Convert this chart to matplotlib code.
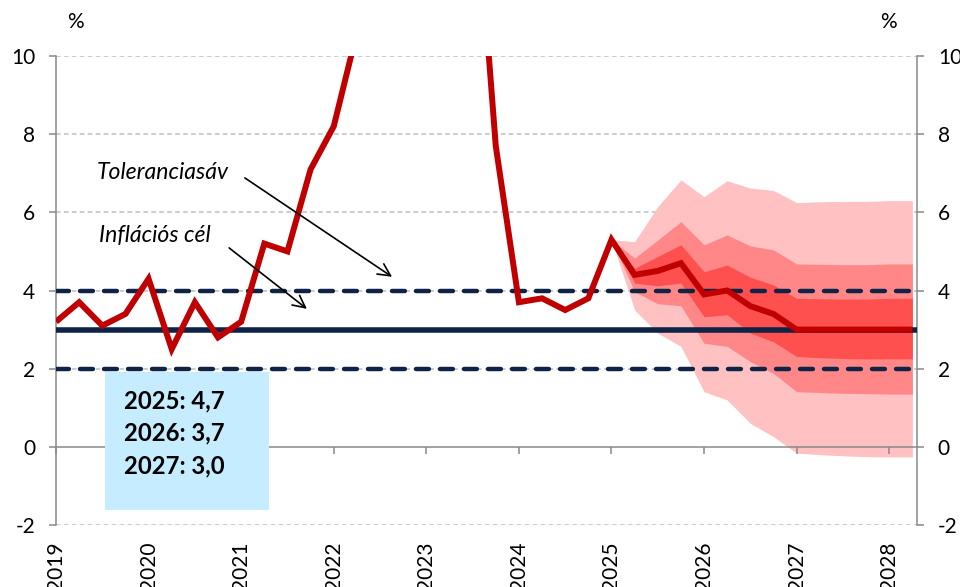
import numpy as np
import matplotlib
matplotlib.use("Agg")
import matplotlib.pyplot as plt

plt.rcParams['font.family'] = ['Lato', 'DejaVu Sans']

# ---------------- data ----------------
start_year = 2019
inflation = [3.2, 3.7, 3.1, 3.4,
             4.3, 2.5, 3.7, 2.8,
             3.2, 5.2, 5.0, 7.1,
             8.2, 10.6, 16.5, 22.7,
             25.4, 21.9, 15.4, 7.7,
             3.7, 3.8, 3.5, 3.8,
             5.3, 4.4, 4.5, 4.7,
             3.9, 4.0, 3.6, 3.4,
             3.0, 3.0, 3.0, 3.0,
             3.0, 3.0]
fan_start_index = 24  # 2025Q1
up90 = [5.3, 5.25, 6.15, 6.83, 6.4, 6.81, 6.62, 6.56, 6.25, 6.27, 6.28, 6.28, 6.3, 6.3]
up60 = [5.3, 4.83, 5.29, 5.76, 5.17, 5.42, 5.14, 5.04, 4.68, 4.67, 4.66, 4.66, 4.68, 4.68]
up30 = [5.3, 4.57, 4.87, 5.17, 4.48, 4.65, 4.34, 4.14, 3.80, 3.79, 3.78, 3.78, 3.80, 3.80]
lo30 = [5.3, 4.19, 4.12, 4.19, 3.33, 3.38, 2.91, 2.69, 2.31, 2.28, 2.26, 2.25, 2.25, 2.25]
lo60 = [5.3, 3.97, 3.66, 3.61, 2.65, 2.57, 2.18, 1.88, 1.41, 1.39, 1.37, 1.36, 1.35, 1.35]
lo90 = [5.3, 3.5, 2.91, 2.57, 1.41, 1.2, 0.6, 0.26, -0.16, -0.2, -0.23, -0.25, -0.26, -0.26]
target = 3.0
band_low, band_high = 2.0, 4.0
year_ticks = list(range(2019, 2029))
yticks = [-2, 0, 2, 4, 6, 8, 10]
box_lines = ["2025: 4,7", "2026: 3,7", "2027: 3,0"]
label_tol = "Toleranciasáv"
label_target = "Inflációs cél"

# ---------------- styling ----------------
RED = '#C00000'
NAVY = '#0F2346'
C90 = '#FFC1C1'
C60 = '#FF8787'
C30 = '#FF5050'
GREY = '#898989'
GRID = '#BFBFBF'
BOX = '#C6EDFF'

x = start_year + np.arange(len(inflation)) / 4.0
xf = x[fan_start_index:fan_start_index + len(up90)]

fig = plt.figure(figsize=(9.6, 5.87), dpi=100)
ax = fig.add_axes([56/960, 1-525/587, (917-56)/960, (525-56)/587])

ax.set_xlim(2019.0, 2028.30)
ax.set_ylim(-2, 10)

# grid
for yv in yticks:
    if yv != 0:
        ax.axhline(yv, color=GRID, lw=1.1, ls=(0, (3.0, 2.2)), zorder=0.5)

# fan
ax.fill_between(xf, lo90, up90, color=C90, lw=0, zorder=1)
ax.fill_between(xf, lo60, up60, color=C60, lw=0, zorder=1.1)
ax.fill_between(xf, lo30, up30, color=C30, lw=0, zorder=1.2)

# tolerance band & target
for yv in (band_low, band_high):
    ax.axhline(yv, color=NAVY, lw=3.2, ls=(0, (2.9, 2.5)),
               dash_capstyle='round', zorder=2)
ax.axhline(target, color=NAVY, lw=4.0, zorder=2.1)

# inflation line
ax.plot(x, inflation, color=RED, lw=4.3, solid_joinstyle='miter',
        solid_capstyle='butt', zorder=3)

# axes styling
ax.spines['top'].set_visible(False)
ax.spines['bottom'].set_position(('data', 0))
for s in ('bottom', 'left', 'right'):
    ax.spines[s].set_color(GREY)
    ax.spines[s].set_linewidth(1.1)
    ax.spines[s].set_zorder(1.5)

ax.set_yticks(yticks)
ax.set_yticklabels([str(v) for v in yticks])
ax.tick_params(axis='y', which='both', direction='out', length=5, width=1.1,
               color=GREY, labelsize=15, left=True, right=True,
               labelleft=True, labelright=True, pad=10)
ax.set_xticks(year_ticks)
ax.set_xticklabels([str(v) for v in year_ticks], rotation=90)
ax.tick_params(axis='x', direction='out', length=5, width=1.1, color=GREY,
               labelsize=15, pad=63)

# percent labels
fig.text(75/960, 1-22/587, '%', ha='center', va='center', fontsize=15)
fig.text(888/960, 1-22/587, '%', ha='center', va='center', fontsize=15)

# annotations
ax.text(2019.44, 7.03, label_tol, style='italic', fontsize=16.6,
        ha='left', va='center', zorder=5)
ax.text(2019.46, 5.40, label_target, style='italic', fontsize=16.6,
        ha='left', va='center', zorder=5)
ax.annotate('', xy=(2022.63, 4.35), xytext=(2021.04, 6.88),
            arrowprops=dict(arrowstyle='->', color='black', lw=1.2,
                            mutation_scale=22, shrinkA=0, shrinkB=0), zorder=5)
ax.annotate('', xy=(2021.71, 3.53), xytext=(2020.87, 5.09),
            arrowprops=dict(arrowstyle='->', color='black', lw=1.2,
                            mutation_scale=22, shrinkA=0, shrinkB=0), zorder=5)

# box with annual averages
bx0, bx1 = (105-56)/861, (269-56)/861
by0, by1 = 0.0325, 0.327
rect = plt.Rectangle((bx0, by0), bx1-bx0, by1-by0, transform=ax.transAxes,
                     facecolor=BOX, edgecolor='none', zorder=6, clip_on=False)
ax.add_patch(rect)
for txt, yy in zip(box_lines, [401, 433, 466]):
    ax.text((124-56)/861, (525-yy)/469, txt, transform=ax.transAxes,
            fontsize=17.2, fontweight='bold', ha='left', va='center', zorder=7)

fig.savefig('out.png', dpi=100)
